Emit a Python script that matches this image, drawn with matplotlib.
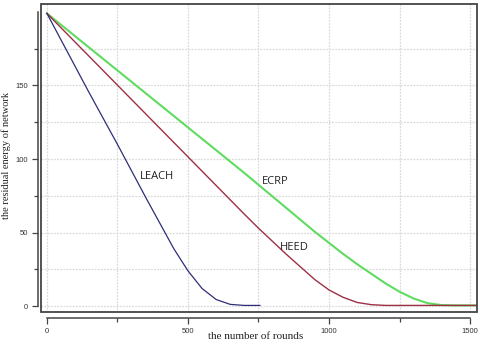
import matplotlib
matplotlib.use("Agg")
import matplotlib.pyplot as plt
from matplotlib.patches import Rectangle

# ---- data ----
leach_x = [0, 50, 100, 150, 200, 250, 300, 350, 400, 450, 500, 550, 600, 650, 700, 755]
leach_y = [199, 181, 163, 145, 127.5, 110, 92, 74, 56.5, 39, 24, 12, 4.5, 1.2, 0.5, 0.5]

heed_x = [0, 100, 200, 300, 400, 500, 600, 700, 750, 800, 850, 900, 950, 1000,
          1050, 1100, 1150, 1200, 1300, 1400, 1525]
heed_y = [199, 179.5, 160, 140.5, 121, 101.5, 82, 62.5, 53, 44, 35, 26.5, 18, 11,
          6, 2.5, 1, 0.5, 0.5, 0.5, 0.5]

ecrp_x = [0, 100, 200, 300, 400, 500, 600, 700, 750, 800, 850, 900, 950, 1000, 1050,
          1100, 1150, 1200, 1250, 1300, 1350, 1400, 1450, 1525]
ecrp_y = [199, 183.5, 168, 152.5, 137, 121.5, 106, 90.5, 82.5, 74.5, 66.5, 58.5, 50.5, 43, 35.5,
          28.5, 22, 15.5, 9.8, 5.2, 2.0, 0.7, 0.5, 0.5]

x_major = [0, 500, 1000, 1500]
x_minor = [250, 750, 1250]
y_major = [0, 50, 100, 150]
y_minor = [25, 75, 125, 175]

labels = {"LEACH": (330, 88), "ECRP": (762, 85), "HEED": (826, 40)}

fig = plt.figure(figsize=(4.8, 3.51), dpi=100)
ax = fig.add_axes([0.0854, 0.111, 0.9086, 0.8776])

ax.set_xlim(-21, 1525)
ax.set_ylim(-4, 205.4)

# grid
for gx in [0] + x_minor + x_major[1:]:
    ax.axvline(gx, color="#dadada", lw=0.9, ls=(0, (1.5, 1)), zorder=0)
for gy in y_major + y_minor:
    ax.axhline(gy, color="#dadada", lw=0.9, ls=(0, (1.5, 1)), zorder=0)

ax.plot(ecrp_x, ecrp_y, color="#5fdc5f", lw=1.5, zorder=3)
ax.plot(heed_x, heed_y, color="#9e3046", lw=1.0, zorder=3)
ax.plot(leach_x, leach_y, color="#2e2e78", lw=0.9, zorder=3)

for name, (tx, ty) in labels.items():
    ax.text(tx, ty, name, fontsize=8, family="Open Sans", color="#222222",
            va="center", ha="left")

# box
ax.add_patch(Rectangle((0, 0), 1, 1, transform=ax.transAxes, fill=False,
                       edgecolor="#444444", lw=1.3, zorder=5, clip_on=False))

for s in ["top", "right"]:
    ax.spines[s].set_visible(False)
ax.spines["bottom"].set_position(("outward", 4))
ax.spines["bottom"].set_bounds(0, 1500)
ax.spines["left"].set_position(("outward", 2))
ax.spines["left"].set_bounds(0, 200)
for s in ["bottom", "left"]:
    ax.spines[s].set_color("#444444")
    ax.spines[s].set_linewidth(1.1)

ax.set_xticks(x_major)
ax.set_xticks(x_minor, minor=True)
ax.set_yticks(y_major)
ax.set_yticks(y_minor, minor=True)
ax.tick_params(axis="both", which="major", length=4.5, width=0.9, color="#444444",
               labelsize=5.5, labelcolor="#333333", pad=3)
ax.tick_params(axis="both", which="minor", length=3, width=0.9, color="#444444")
for lab in ax.get_xticklabels() + ax.get_yticklabels():
    lab.set_family("Liberation Sans")

ax.set_xlabel("the number of rounds", family="Liberation Serif", fontsize=8,
              color="#222222")
ax.xaxis.set_label_coords(0.493, -0.066)
ax.set_ylabel("the residual energy of network", family="Liberation Serif",
              fontsize=7.5, color="#222222")
ax.yaxis.set_label_coords(-0.068, 0.51)

fig.savefig("out.png", dpi=100)
